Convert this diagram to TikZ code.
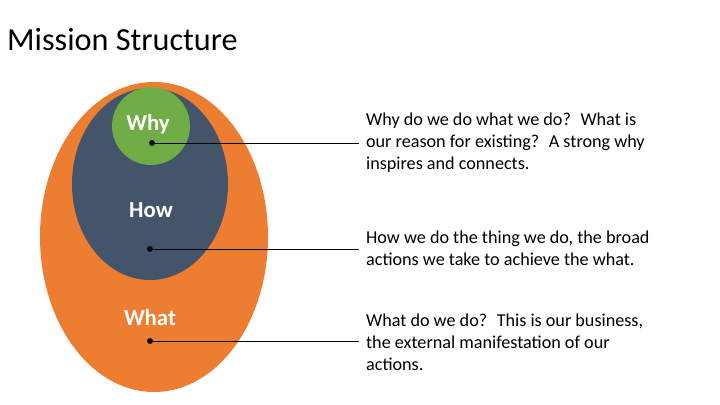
\documentclass[tikz,border=0pt]{standalone}
\usepackage{fontspec}
\setmainfont{Carlito}
\definecolor{whatorange}{HTML}{ED7D31}
\definecolor{howblue}{HTML}{44546A}
\definecolor{whygreen}{HTML}{70AD47}
\begin{document}
\begin{tikzpicture}[x=0.03cm, y=-0.03cm,
    label/.style={text=white, font=\bfseries\fontsize{19.5}{22}\selectfont},
    dot/.style={circle, fill=black, inner sep=0pt, minimum size=5pt},
    note/.style={anchor=west, align=left, font=\fontsize{15.5}{18.7}\selectfont},
    link/.style={thick}
]
    \useasboundingbox (0,0) rectangle (720,405);
    \node[anchor=west, font=\fontsize{27.5}{32}\selectfont] (title) at (3,40) {Mission Structure};

    % nested ellipses
    \fill[whatorange] (154,237) ellipse [x radius=114, y radius=155];
    \fill[howblue] (150,184) ellipse [x radius=78, y radius=96];
    \fill[whygreen] (151,126) circle [radius=39];

    \node[label] (why) at (148,124) {Why};
    \node[label] (how) at (151,210) {How};
    \node[label] (what) at (150,318) {What};

    \node[dot] (d1) at (152,143) {};
    \node[dot] (d2) at (150,249) {};
    \node[dot] (d3) at (150,341) {};

    \node[note] (n1) at (362,143) {Why do we do what we do?~ What is\\our reason for existing?~ A strong why\\inspires and connects.};
    \node[note] (n2) at (362,248) {How we do the thing we do, the broad\\actions we take to achieve the what.};
    \node[note] (n3) at (362,342) {What do we do?~ This is our business,\\the external manifestation of our\\actions.};

    \coordinate (e1) at (359,143);
    \coordinate (e2) at (359,249);
    \coordinate (e3) at (359,341);
    \draw[link] (d1) -- (e1);
    \draw[link] (d2) -- (e2);
    \draw[link] (d3) -- (e3);
\end{tikzpicture}
\end{document}
